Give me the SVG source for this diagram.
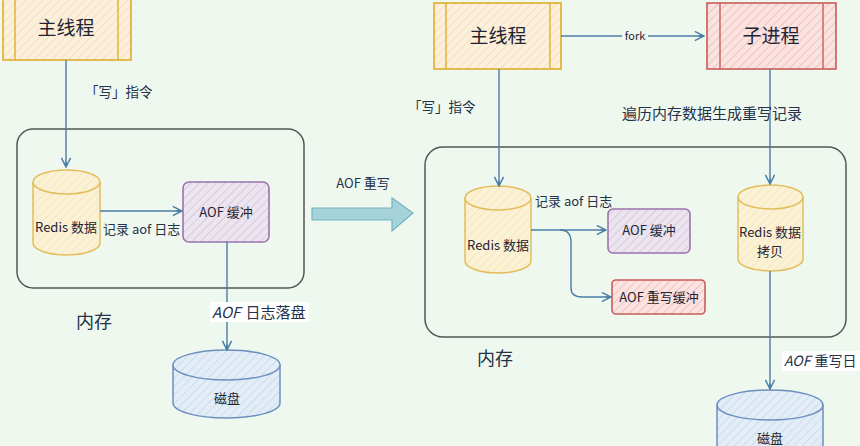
<svg xmlns="http://www.w3.org/2000/svg" width="860" height="446" viewBox="0 0 860 446">
<defs>
<style>
.t{font-family:"Noto Sans CJK SC","Noto Sans",sans-serif;fill:#1f2433;}
.big{font-size:19px;}
.mm{font-size:18px;fill:#24324a;}
.lbl{fill:#24324a;}
.sm{font-size:13px;}
.conn{stroke:#4a7ea6;stroke-width:1.4;fill:none;}
.mem{fill:none;stroke:#555;stroke-width:1.5;}
</style>
<pattern id="hY" width="6" height="6" patternUnits="userSpaceOnUse" patternTransform="rotate(45)"><rect width="6" height="6" fill="#fcf0dc"/><line x1="0" y1="0" x2="0" y2="6" stroke="#f2d7b0" stroke-width="1.4"/></pattern>
<pattern id="hR" width="6" height="6" patternUnits="userSpaceOnUse" patternTransform="rotate(45)"><rect width="6" height="6" fill="#fbe3e1"/><line x1="0" y1="0" x2="0" y2="6" stroke="#f0b4b0" stroke-width="1.4"/></pattern>
<pattern id="hP" width="6" height="6" patternUnits="userSpaceOnUse" patternTransform="rotate(45)"><rect width="6" height="6" fill="#ece4ef"/><line x1="0" y1="0" x2="0" y2="6" stroke="#cfc2d6" stroke-width="1.4"/></pattern>
<pattern id="hB" width="6" height="6" patternUnits="userSpaceOnUse" patternTransform="rotate(45)"><rect width="6" height="6" fill="#e3edf6"/><line x1="0" y1="0" x2="0" y2="6" stroke="#c3d5ea" stroke-width="1.4"/></pattern>
<pattern id="hC" width="6" height="6" patternUnits="userSpaceOnUse" patternTransform="rotate(45)"><rect width="6" height="6" fill="#fbf2d6"/><line x1="0" y1="0" x2="0" y2="6" stroke="#f2e2ae" stroke-width="1.2"/></pattern>
<marker id="arr" viewBox="0 0 12 12" refX="11" refY="6" markerWidth="11" markerHeight="11" markerUnits="userSpaceOnUse" orient="auto">
<path d="M1,1 L11,6 L1,11 M11,6 L5,6" fill="none" stroke="#4a7ea6" stroke-width="1.6"/>
</marker>
</defs>
<rect width="860" height="446" fill="#eff8ee"/>

<!-- left side -->
<g id="mem-left">
<rect class="mem" x="17" y="129" width="287" height="159" rx="16"/>
<text class="t mm" x="94" y="328" text-anchor="middle">内存</text>
</g>
<g id="main-left">
<rect x="3" y="-4" width="128" height="64" fill="url(#hY)" stroke="#e0ad2a" stroke-width="1.6"/>
<line x1="15" y1="-4" x2="15" y2="60" stroke="#e0ad2a" stroke-width="1.4"/>
<line x1="118" y1="-4" x2="118" y2="60" stroke="#e0ad2a" stroke-width="1.4"/>
<text class="t big" x="66" y="35" text-anchor="middle">主线程</text>
</g>
<g id="redis-left">
<path d="M33,182 L33,243 A33.5,12 0 0 0 100,243 L100,182 A33.5,12 0 0 0 33,182 Z" fill="url(#hC)" stroke="#e3bd5c" stroke-width="1.5"/>
<path d="M33,182 A33.5,12 0 0 0 100,182" fill="none" stroke="#e3bd5c" stroke-width="1.5"/>
<text class="t sm" x="66" y="232" text-anchor="middle">Redis 数据</text>
</g>
<g id="aofbuf-left">
<rect x="183" y="182" width="86" height="60" rx="6" fill="url(#hP)" stroke="#9b74ad" stroke-width="1.6"/>
<text class="t sm" x="226" y="217" text-anchor="middle">AOF 缓冲</text>
</g>
<g id="disk-left">
<path d="M173,365 L173,403 A53.5,15 0 0 0 280,403 L280,365 A53.5,15 0 0 0 173,365 Z" fill="url(#hB)" stroke="#6d8fc0" stroke-width="1.5"/>
<path d="M173,365 A53.5,15 0 0 0 280,365" fill="none" stroke="#6d8fc0" stroke-width="1.5"/>
<text class="t sm" x="227" y="403" text-anchor="middle">磁盘</text>
</g>

<!-- right side -->
<g id="mem-right">
<rect class="mem" x="425" y="147" width="421" height="190" rx="18"/>
<text class="t mm" x="495" y="365" text-anchor="middle">内存</text>
</g>
<g id="main-right">
<rect x="434" y="3" width="127" height="66" fill="url(#hY)" stroke="#e0ad2a" stroke-width="1.6"/>
<line x1="446" y1="3" x2="446" y2="69" stroke="#e0ad2a" stroke-width="1.4"/>
<line x1="550" y1="3" x2="550" y2="69" stroke="#e0ad2a" stroke-width="1.4"/>
<text class="t big" x="498" y="43" text-anchor="middle">主线程</text>
</g>
<g id="child">
<rect x="707" y="3" width="129" height="66" fill="url(#hR)" stroke="#c95c58" stroke-width="1.6"/>
<line x1="720" y1="3" x2="720" y2="69" stroke="#c95c58" stroke-width="1.4"/>
<line x1="823" y1="3" x2="823" y2="69" stroke="#c95c58" stroke-width="1.4"/>
<text class="t big" x="771" y="43" text-anchor="middle">子进程</text>
</g>
<g id="redis-right">
<path d="M465,198 L465,261 A33,12 0 0 0 531,261 L531,198 A33,12 0 0 0 465,198 Z" fill="url(#hC)" stroke="#e3bd5c" stroke-width="1.5"/>
<path d="M465,198 A33,12 0 0 0 531,198" fill="none" stroke="#e3bd5c" stroke-width="1.5"/>
<text class="t sm" x="498" y="250" text-anchor="middle">Redis 数据</text>
</g>
<g id="aofbuf-right">
<rect x="608" y="209" width="82" height="44" rx="5" fill="url(#hP)" stroke="#9b74ad" stroke-width="1.6"/>
<text class="t sm" x="649" y="235" text-anchor="middle">AOF 缓冲</text>
</g>
<g id="rewritebuf">
<rect x="612" y="280" width="93" height="34" rx="4" fill="url(#hR)" stroke="#c95c58" stroke-width="1.6"/>
<text class="t sm" x="659" y="302" text-anchor="middle">AOF 重写缓冲</text>
</g>
<g id="redis-copy">
<path d="M738,197 L738,259 A32.5,12 0 0 0 803,259 L803,197 A32.5,12 0 0 0 738,197 Z" fill="url(#hC)" stroke="#e3bd5c" stroke-width="1.5"/>
<path d="M738,197 A32.5,12 0 0 0 803,197" fill="none" stroke="#e3bd5c" stroke-width="1.5"/>
<text class="t sm" x="770" y="237" text-anchor="middle">Redis 数据</text>
<text class="t sm" x="770" y="256" text-anchor="middle">拷贝</text>
</g>
<g id="disk-right">
<path d="M717,405 L717,460 A53,15 0 0 0 823,460 L823,405 A53,15 0 0 0 717,405 Z" fill="url(#hB)" stroke="#6d8fc0" stroke-width="1.5"/>
<path d="M717,405 A53,15 0 0 0 823,405" fill="none" stroke="#6d8fc0" stroke-width="1.5"/>
<text class="t sm" x="770" y="443" text-anchor="middle">磁盘</text>
</g>

<g id="big-arrow">
<path d="M312,208 L392,208 L392,198 L413,213 L392,231 L392,220 L312,220 Z" fill="#a6d3da" stroke="#72b3c2" stroke-width="1.2"/>
<text class="t lbl" x="363" y="188" font-size="13" text-anchor="middle">AOF 重写</text>
</g>

<g id="connectors">
<line class="conn" x1="66" y1="60" x2="66" y2="167" marker-end="url(#arr)"/>
<line class="conn" x1="100" y1="211" x2="182" y2="211" marker-end="url(#arr)"/>
<line class="conn" x1="227" y1="242" x2="227" y2="350" marker-end="url(#arr)"/>
<line class="conn" x1="499" y1="69" x2="499" y2="186" marker-end="url(#arr)"/>
<line class="conn" x1="561" y1="36" x2="704" y2="36" marker-end="url(#arr)"/>
<line class="conn" x1="770" y1="69" x2="770" y2="184" marker-end="url(#arr)"/>
<path class="conn" d="M531,230 L606,230" marker-end="url(#arr)"/>
<path class="conn" d="M560,230 Q571,230 571,242 L571,288 Q571,297 582,297 L611,297" marker-end="url(#arr)"/>
<line class="conn" x1="770" y1="271" x2="770" y2="389" marker-end="url(#arr)"/>
</g>

<g id="labels">
<text class="t lbl" x="85" y="97" font-size="13.5">「写」指令</text>
<text class="t lbl" x="103" y="234" font-size="13">记录 aof 日志</text>
<rect x="210" y="302" width="99" height="20" fill="#ffffff"/>
<text class="t lbl" x="212" y="318" font-size="15"><tspan font-style="italic">AOF</tspan><tspan dx="5">日志落盘</tspan></text>
<text class="t lbl" x="408" y="112" font-size="13.5">「写」指令</text>
<rect x="622" y="29" width="26" height="14" fill="#eff8ee"/>
<text class="t" x="635" y="40" font-size="11" text-anchor="middle">fork</text>
<text class="t lbl" x="622" y="119" font-size="15">遍历内存数据生成重写记录</text>
<text class="t lbl" x="535" y="206" font-size="13">记录 aof 日志</text>
<rect x="782" y="351" width="78" height="20" fill="#ffffff"/>
<text class="t lbl" x="784" y="366" font-size="14"><tspan font-style="italic">AOF</tspan><tspan dx="4">重写日</tspan></text>
</g>
</svg>
